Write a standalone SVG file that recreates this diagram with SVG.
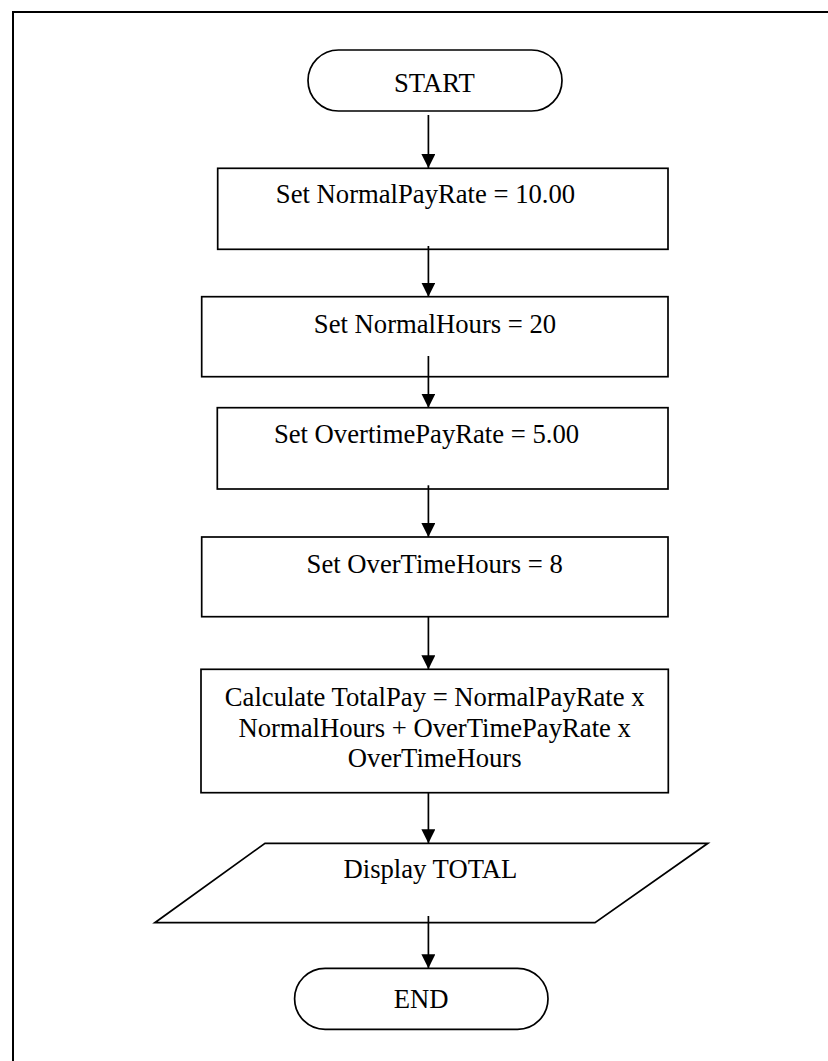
<svg xmlns="http://www.w3.org/2000/svg" width="828" height="1061" viewBox="0 0 828 1061">
<defs>
<marker id="ah" viewBox="0 0 14 14" refX="14" refY="7" markerWidth="14" markerHeight="14" markerUnits="userSpaceOnUse" orient="auto">
<path d="M0,0 L14,7 L0,14 Z" fill="#000"/>
</marker>
<style>
.shape{fill:#fff;stroke:#000;stroke-width:1.7}
.lbl{font-family:"Liberation Serif","Times New Roman",serif;font-size:26.67px;fill:#000;text-anchor:middle}
.conn{stroke:#000;stroke-width:1.7;fill:none;marker-end:url(#ah)}
</style>
</defs>
<rect width="828" height="1061" fill="#fff"/>
<path d="M13,1062 V12 H829" fill="none" stroke="#000" stroke-width="2"/>
<g id="start">
<rect class="shape" x="308" y="50" width="254" height="61" rx="30.5" ry="30.5"/>
<text class="lbl" x="434.4" y="91.7">START</text>
</g>
<g id="set-normal-pay-rate">
<rect class="shape" x="217.7" y="168.3" width="450.3" height="81"/>
<text class="lbl" x="425.5" y="203.3">Set NormalPayRate = 10.00</text>
</g>
<g id="set-normal-hours">
<rect class="shape" x="201.7" y="296.7" width="466.3" height="80"/>
<text class="lbl" x="435" y="332.7">Set NormalHours = 20</text>
</g>
<g id="set-overtime-pay-rate">
<rect class="shape" x="217.3" y="407.7" width="450.7" height="81.3"/>
<text class="lbl" x="426.5" y="443.3">Set OvertimePayRate = 5.00</text>
</g>
<g id="set-overtime-hours">
<rect class="shape" x="201.7" y="537" width="466.3" height="79.7"/>
<text class="lbl" x="434.7" y="572.7">Set OverTimeHours = 8</text>
</g>
<g id="calculate-total-pay">
<rect class="shape" x="201" y="669.3" width="467.3" height="123.4"/>
<text class="lbl" x="434.7" y="706">Calculate TotalPay = NormalPayRate x</text>
<text class="lbl" x="434.7" y="736.7">NormalHours + OverTimePayRate x</text>
<text class="lbl" x="434.7" y="766.7">OverTimeHours</text>
</g>
<g id="display-total">
<polygon class="shape" points="265,843.3 707.9,843.3 595,922.7 154.8,922.7"/>
<text class="lbl" x="430.4" y="878.3">Display TOTAL</text>
</g>
<g id="end">
<rect class="shape" x="294.6" y="968.3" width="253.4" height="61" rx="30.5" ry="30.5"/>
<text class="lbl" x="421.2" y="1008.3">END</text>
</g>
<g id="connectors">
<line class="conn" x1="428.4" y1="115" x2="428.4" y2="168"/>
<line class="conn" x1="428.4" y1="246" x2="428.4" y2="296.7"/>
<line class="conn" x1="428.4" y1="356" x2="428.4" y2="407.7"/>
<line class="conn" x1="428.4" y1="485.3" x2="428.4" y2="537"/>
<line class="conn" x1="428.4" y1="616.7" x2="428.4" y2="669.3"/>
<line class="conn" x1="428.4" y1="792.7" x2="428.4" y2="843.3"/>
<line class="conn" x1="428.4" y1="916" x2="428.4" y2="968.3"/>
</g>
</svg>
